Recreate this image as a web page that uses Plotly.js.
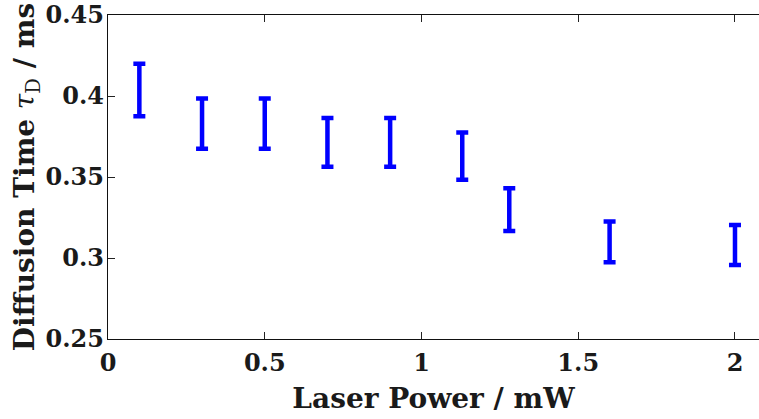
<!DOCTYPE html>
<html>
<head>
<meta charset="utf-8">
<script src="https://cdn.plot.ly/plotly-3.0.1.min.js"></script>
<style>
  html, body { margin: 0; padding: 0; background: #ffffff; }
  #chart { width: 759px; height: 419px; }
</style>
</head>
<body>
<div id="chart"></div>
<script>
// Laser power (mW) and the fitted diffusion time (ms) with its uncertainty
const laserPower = [0.1, 0.3, 0.5, 0.7, 0.9, 1.13, 1.28, 1.6, 2.0];
const diffusionTime = [0.4037, 0.3829, 0.3829, 0.3714, 0.3714, 0.3629, 0.3299, 0.3099, 0.3080];
const timeError = [0.0162, 0.0155, 0.0155, 0.0150, 0.0150, 0.0146, 0.0132, 0.0126, 0.0123];

const xTicks = [0, 0.5, 1, 1.5, 2];
const xTickLabels = ['0', '0.5', '1', '1.5', '2'];
const yTicks = [0.25, 0.3, 0.35, 0.4, 0.45];
const yTickLabels = ['0.25', '0.3', '0.35', '0.4', '0.45'];

const serif = 'DejaVu Serif, Liberation Serif, serif';

const trace = {
  x: laserPower,
  y: diffusionTime,
  type: 'scatter',
  mode: 'markers',
  marker: { size: 2, color: '#0000ff', opacity: 0 },
  error_y: {
    type: 'data',
    array: timeError,
    visible: true,
    color: '#0000ff',
    thickness: 4.5,
    width: 6
  },
  hoverinfo: 'x+y'
};

const layout = {
  width: 759,
  height: 419,
  margin: { l: 108, r: 0, t: 15, b: 80 },
  paper_bgcolor: '#ffffff',
  plot_bgcolor: '#ffffff',
  showlegend: false,
  font: { family: serif, color: '#1a1a1a', size: 24 },
  xaxis: {
    range: [0, 2.0766],
    tickvals: xTicks,
    ticktext: xTickLabels,
    ticks: 'inside',
    ticklen: 7,
    tickwidth: 1,
    tickcolor: '#222222',
    showline: true,
    linecolor: '#111111',
    linewidth: 1.2,
    mirror: 'ticks',
    showgrid: false,
    zeroline: false,
    ticklabelstandoff: 2,
    tickfont: { family: serif, size: 24, weight: 'bold', color: '#1a1a1a' },
    title: {
      text: '<b>Laser Power / mW</b>',
      font: { family: serif, size: 28, color: '#1a1a1a' },
      standoff: 12
    }
  },
  yaxis: {
    range: [0.25, 0.45],
    tickvals: yTicks,
    ticktext: yTickLabels,
    ticks: 'inside',
    ticklen: 7,
    tickwidth: 1,
    tickcolor: '#222222',
    showline: true,
    linecolor: '#111111',
    linewidth: 1.2,
    mirror: false,
    showgrid: false,
    zeroline: false,
    ticklabelstandoff: -2,
    tickfont: { family: serif, size: 24, weight: 'bold', color: '#1a1a1a' },
    title: {
      text: '<b>Diffusion Time </b><i>τ</i><sub>D</sub><b> / ms</b>',
      font: { family: serif, size: 28, color: '#1a1a1a' },
      standoff: 2
    }
  }
};

Plotly.newPlot('chart', [trace], layout, { displayModeBar: false, staticPlot: true });
</script>
</body>
</html>
